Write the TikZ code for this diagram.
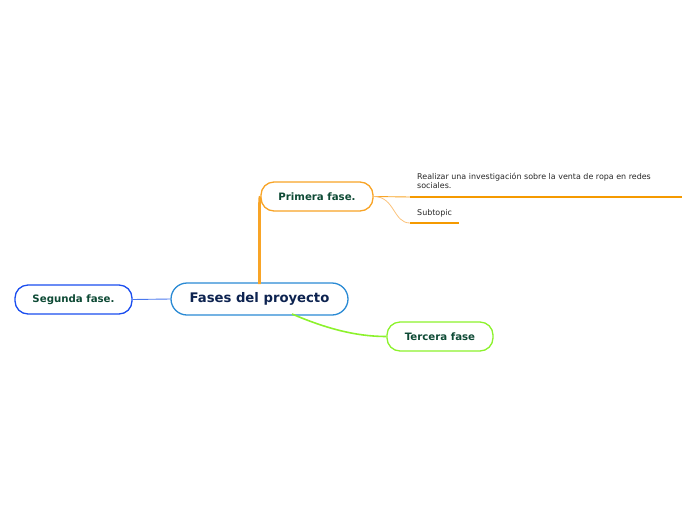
\documentclass[tikz,border=0pt]{standalone}
\usepackage{fontspec}
\setmainfont{DejaVu Sans}
\begin{document}
\begin{tikzpicture}[x=1pt,y=-1pt,
  topic/.style={draw,line width=1.3pt,rounded corners=13pt,fill=white,inner sep=0pt,
    font=\fontsize{10.2}{12}\selectfont\bfseries},
  sub/.style={font=\fontsize{7.95}{9.2}\selectfont,text=black!85,anchor=north west,inner sep=0pt,align=left}]
\useasboundingbox (0,0) rectangle (696,520);
\definecolor{cblue}{HTML}{2A8AD4}
\definecolor{corange}{HTML}{F8A426}
\definecolor{dorange}{HTML}{F59A00}
\definecolor{lorange}{HTML}{FBC27A}
\definecolor{sblue}{HTML}{1A4DEF}
\definecolor{lblue}{HTML}{4A78EE}
\definecolor{tgreen}{HTML}{8CF22C}
\definecolor{navy}{HTML}{0D2350}
\definecolor{dgreen}{HTML}{0E4A35}

\coordinate (cN) at (259.5,284);
\coordinate (cS) at (292,314);
\coordinate (s1a) at (410,197);
\coordinate (s1b) at (682,197);
\coordinate (s2a) at (410,223);
\coordinate (s2b) at (459,223);

\node[topic,draw=cblue,minimum width=177pt,minimum height=32pt,rounded corners=16pt,
  font=\fontsize{13.2}{15}\selectfont\bfseries,text=navy] (c) at (259.5,299) {Fases del proyecto};
\node[topic,draw=corange,minimum width=112pt,minimum height=29pt,text=dgreen] (p) at (317,196.5) {Primera fase.};
\node[topic,draw=sblue,minimum width=117pt,minimum height=29pt,text=dgreen] (s) at (73.5,299.5) {Segunda fase.};
\node[topic,draw=tgreen,minimum width=106pt,minimum height=29pt,text=dgreen] (t) at (440,336.5) {Tercera fase};

\draw[corange,line width=2.6pt] (cN) -- (259.5,215) .. controls (259.5,200) and (259.5,196.5) .. (p.west);
\draw[lblue,line width=0.9pt] (s.east) -- (c.west);
\draw[tgreen,line width=1.6pt] (cS) .. controls (325,328) and (355,336.5) .. (t.west);

\draw[corange,line width=0.9pt] (p.east) -- (s1a);
\draw[dorange,line width=2.2pt] (s1a) -- (s1b);
\draw[lorange,line width=0.8pt] (p.east) .. controls (395,196.5) and (393,223) .. (s2a);
\draw[dorange,line width=2.2pt] (s2a) -- (s2b);

\node[sub] (r) at (417,172.5) {Realizar una investigación sobre la venta de ropa en redes\\sociales.};
\node[sub] (st) at (417,209) {Subtopic};
\end{tikzpicture}
\end{document}
